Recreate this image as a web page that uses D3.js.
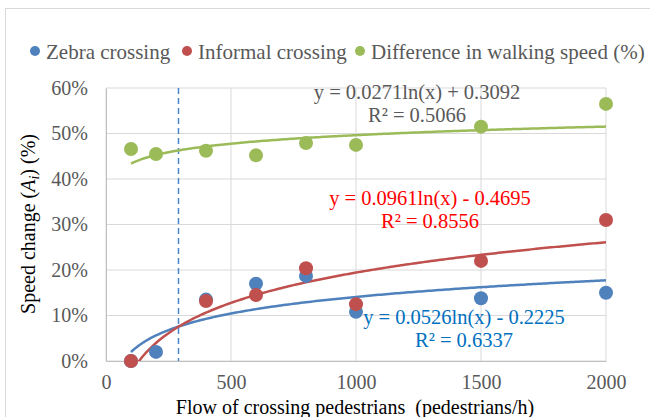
<!DOCTYPE html>
<html lang="en">
<head>
  <meta charset="UTF-8" />
  <title>Speed change vs crossing flow</title>
  <style>
    body { margin: 0; background: #fff; font-family: "Liberation Serif", "Times New Roman", serif; }
    svg { display: block; }
    .grid line { stroke: #d9d9d9; stroke-width: 1px; }
    .tick text { fill: #595959; font-size: 20px; }
  </style>
</head>
<body>
<svg id="chart"></svg>
<script src="https://d3js.org/d3.v7.min.js"></script>
<script>
  const width = 650, height = 417;

  // data
  const flows = [100, 200, 400, 600, 800, 1000, 1500, 2000];
  const zebra = [0, 0.020, 0.135, 0.170, 0.187, 0.108, 0.138, 0.150];
  const informal = [0, null, 0.132, 0.145, 0.204, 0.125, 0.220, 0.310];
  const difference = [0.466, 0.455, 0.462, 0.452, 0.479, 0.475, 0.515, 0.565];
  const xTicks = [0, 500, 1000, 1500, 2000];
  const yTicks = [0, 0.1, 0.2, 0.3, 0.4, 0.5, 0.6];
  const thresholdFlow = 290;

  // log trendlines: a*ln(x) + b
  const series = [
    { name: "Zebra crossing", values: zebra, color: "#4f81bd", a: 0.0526, b: -0.2225, r2: "0.6337", labelColor: "#0070c0" },
    { name: "Informal crossing", values: informal, color: "#c0504d", a: 0.0961, b: -0.4695, r2: "0.8556", labelColor: "#ff0000" },
    { name: "Difference in walking speed (%)", values: difference, color: "#9bbb59", a: 0.0271, b: 0.3092, r2: "0.5066", labelColor: "#595959" }
  ];

  const margin = { left: 106, right: 44, top: 88, bottom: 56 };
  const svg = d3.select("#chart").attr("width", width).attr("height", height)
    .attr("font-family", "'Liberation Serif', 'Times New Roman', serif");

  svg.append("rect").attr("x", 5.5).attr("y", 8.5).attr("width", 660).attr("height", 420)
    .attr("fill", "none").attr("stroke", "#d9d9d9");

  const x = d3.scaleLinear().domain([0, 2000]).range([margin.left, width - margin.right]);
  const y = d3.scaleLinear().domain([0, 0.6]).range([height - margin.bottom, margin.top]);

  // grid
  const grid = svg.append("g").attr("class", "grid");
  grid.selectAll(".h").data(yTicks).enter().append("line")
    .attr("x1", x(0)).attr("x2", x(2000)).attr("y1", d => y(d)).attr("y2", d => y(d));
  grid.selectAll(".v").data(xTicks).enter().append("line")
    .attr("y1", y(0)).attr("y2", y(0.6)).attr("x1", d => x(d)).attr("x2", d => x(d));

  // axes
  svg.append("g").attr("transform", `translate(0,${y(0)})`)
    .call(d3.axisBottom(x).tickValues(xTicks).tickFormat(d3.format("d")).tickSize(0).tickPadding(14))
    .attr("font-family", null).attr("font-size", null)
    .call(g => g.select(".domain").attr("stroke", "#bfbfbf"));
  svg.append("g").attr("transform", `translate(${x(0)},0)`)
    .call(d3.axisLeft(y).tickValues(yTicks).tickFormat(d3.format(".0%")).tickSize(0).tickPadding(18))
    .attr("font-family", null).attr("font-size", null)
    .call(g => g.select(".domain").attr("stroke", "#bfbfbf"));

  // threshold line
  svg.append("line")
    .attr("x1", x(thresholdFlow)).attr("x2", x(thresholdFlow))
    .attr("y1", y(0.6)).attr("y2", y(0))
    .attr("stroke", "#4a86c8").attr("stroke-width", 1.5).attr("stroke-dasharray", "6,4");

  // trendlines, clipped to plot area
  svg.append("clipPath").attr("id", "plot").append("rect")
    .attr("x", x(0)).attr("y", y(0.6)).attr("width", x(2000) - x(0)).attr("height", y(0) - y(0.6));
  const trendX = d3.range(100, 2001, 10);
  const line = d3.line().x(d => x(d[0])).y(d => y(d[1]));

  series.forEach(s => {
    svg.append("path")
      .attr("clip-path", "url(#plot)")
      .attr("d", line(trendX.map(v => [v, s.a * Math.log(v) + s.b])))
      .attr("fill", "none").attr("stroke", s.color).attr("stroke-width", 2.5);
  });

  // points (zebra first, informal over it, difference last)
  series.forEach(s => {
    svg.append("g").selectAll("circle")
      .data(flows.map((f, i) => [f, s.values[i]]).filter(d => d[1] !== null))
      .enter().append("circle")
      .attr("cx", d => x(d[0])).attr("cy", d => y(d[1])).attr("r", 7)
      .attr("fill", s.color);
  });

  // equation labels
  const eqPos = [[464, 324], [430, 205], [417, 99]];
  series.forEach((s, i) => {
    const t = svg.append("text").attr("text-anchor", "middle").attr("fill", s.labelColor)
      .style("font-size", "20.5px");
    const sign = s.b < 0 ? " - " : " + ";
    t.append("tspan").attr("x", eqPos[i][0]).attr("y", eqPos[i][1])
      .text(`y = ${s.a.toFixed(4)}ln(x)${sign}${Math.abs(s.b).toFixed(4)}`);
    t.append("tspan").attr("x", eqPos[i][0]).attr("y", eqPos[i][1] + 23)
      .text(`R² = ${s.r2}`);
  });

  // legend
  const legendX = [35, 187, 360];
  series.forEach((s, i) => {
    svg.append("circle").attr("cx", legendX[i]).attr("cy", 51).attr("r", 5).attr("fill", s.color);
    svg.append("text").attr("x", legendX[i] + 11).attr("y", 59).attr("fill", "#595959")
      .style("font-size", "21px").text(s.name);
  });

  // axis titles
  svg.append("text").attr("x", 355).attr("y", 414).attr("text-anchor", "middle")
    .attr("fill", "#000").style("font-size", "20px")
    .text("Flow of crossing pedestrians\u00a0\u00a0(pedestrians/h)");

  const yt = svg.append("text").attr("transform", "translate(35,224) rotate(-90)")
    .attr("text-anchor", "middle").attr("fill", "#000").style("font-size", "20px");
  yt.append("tspan").text("Speed change (");
  yt.append("tspan").style("font-style", "italic").text("A");
  yt.append("tspan").style("font-style", "italic").style("font-size", "14px").attr("dy", 4).text("i");
  yt.append("tspan").attr("dy", -4).text(") (%)");
</script>
</body>
</html>
